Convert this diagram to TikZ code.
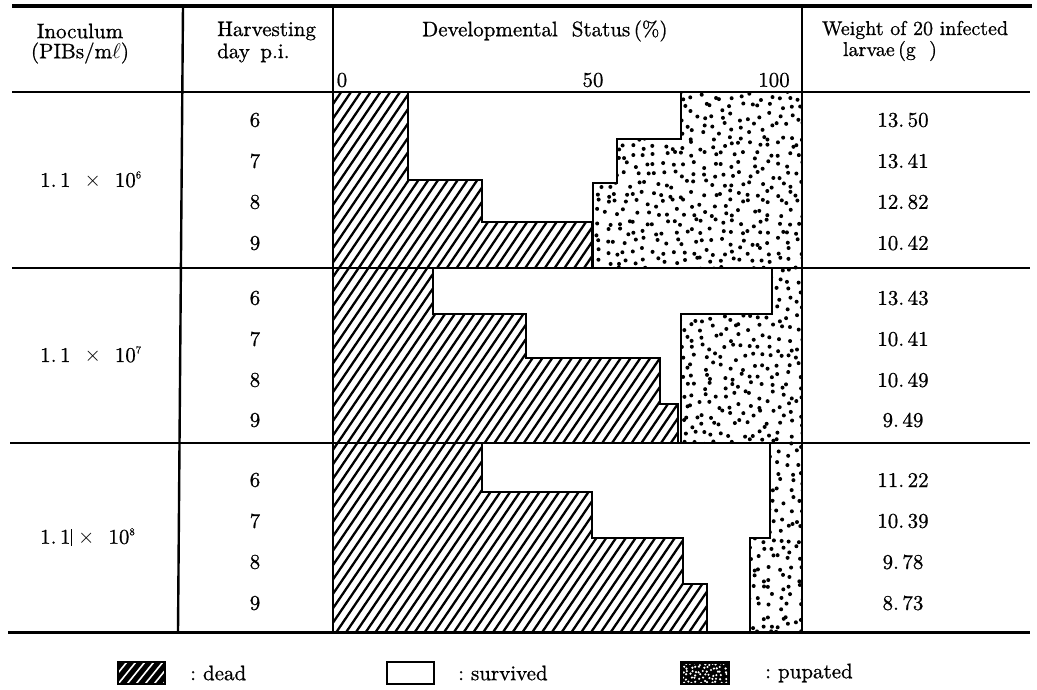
\documentclass[tikz,border=0pt]{standalone}
\usepackage{fontspec}
\newfontfamily\heavyrm{lmroman10-regular.otf}[FakeBold=0.8]
\newcommand{\sx}[2][2.1]{\scalebox{#1}{\fontsize{10}{12}\heavyrm #2}}
\newcommand{\supx}[1]{\raisebox{0.95ex}{\fontsize{5}{6}\selectfont #1}}
\begin{document}
\begin{tikzpicture}[x=1pt,y=-1pt,
  txt/.style={inner sep=0pt},
  thickrule/.style={line width=3.8pt},
  rule/.style={line width=2.4pt},
  outline/.style={line width=2.6pt,line join=miter},
  hatch/.style={line width=2.3pt},
  deadA/.style={insert path={(333,92) -- (408,92) -- (408,180) -- (482,180) -- (482,222) -- (592,222) -- (592,268) -- (333,268) -- cycle}},
  deadB/.style={insert path={(333,268) -- (433,268) -- (433,314) -- (526,314) -- (526,358) -- (660,358) -- (660,404) -- (678,404) -- (678,443) -- (333,443) -- cycle}},
  deadC/.style={insert path={(333,443) -- (482,443) -- (482,492) -- (592,492) -- (592,538) -- (683,538) -- (683,584) -- (707,584) -- (707,632) -- (333,632) -- cycle}},
  pupA/.style={insert path={(681,92) -- (802,92) -- (802,268) -- (593,268) -- (593,183) -- (617,183) -- (617,139) -- (681,139) -- cycle}},
  pupB/.style={insert path={(772,268) -- (802,268) -- (802,443) -- (681,443) -- (681,314) -- (772,314) -- cycle}},
  pupC/.style={insert path={(770,443) -- (802,443) -- (802,632) -- (750,632) -- (750,538) -- (770,538) -- cycle}}
]
\useasboundingbox (0,0) rectangle (1037,689);

% ---------- hatching of dead regions ----------
\begin{scope}
  \clip[deadA,deadB,deadC];
  \foreach \k in {0,...,88} {
    \draw[hatch] ({-110+\k*9.8},640) -- ++(500,-735);
  }
\end{scope}
\draw[outline,deadA];
\draw[outline,deadB];
\draw[outline,deadC];

% ---------- dots of pupated regions ----------
\pgfmathsetseed{4711}
\begin{scope}
  \clip[pupA,pupB,pupC];
  \foreach \i in {0,...,23} {
    \foreach \j in {0,...,58} {
      \pgfmathsetmacro\px{588+\i*9.6+rand*4}
      \pgfmathsetmacro\py{88+\j*9.6+rand*4}
      \fill (\px,\py) circle[radius=2pt];
    }
  }
\end{scope}
\draw[outline,pupA];
\draw[outline,pupB];
\draw[outline,pupC];

% ---------- table rules ----------
\coordinate (tl) at (12,6);   \coordinate (tr) at (1032,6);
\coordinate (hl) at (12,92);  \coordinate (hr) at (1030,92);
\coordinate (g1l) at (12,268); \coordinate (g1r) at (1030,268);
\coordinate (g2l) at (10,443); \coordinate (g2r) at (1030,443);
\coordinate (bl) at (8,632);  \coordinate (br) at (1030,632);
\coordinate (c1t) at (183,6); \coordinate (c1b) at (178,632);
\coordinate (c2t) at (333,6); \coordinate (c2b) at (333,632);
\coordinate (c3t) at (802,6); \coordinate (c3b) at (802,632);
\draw[thickrule] (tl) -- (tr);
\draw[rule,line width=2.8pt] (hl) -- (hr);
\draw[rule] (g1l) -- (g1r);
\draw[rule] (g2l) -- (g2r);
\draw[rule,line width=3pt] (bl) -- (br);
\draw[rule] (c1t) -- (c1b);
\draw[rule] (c2t) -- (c2b);
\draw[rule] (c3t) -- (c3b);

% ---------- header ----------
\node[txt] (hInoc) at (80,31) {\sx{Inoculum}};
\node[txt] (hPIB) at (80,53) {\sx{(PIBs/m$\ell$)}};
\node[txt,anchor=west] (hHarv) at (217,31) {\sx{Harvesting}};
\node[txt,anchor=west] (hDay) at (217,53) {\sx{day\, p.i.}};
\node[txt,anchor=west] (hDev) at (422,31) {\sx{Developmental\ \ Status\,(\%)}};
\node[txt] (h0) at (342,80) {\sx{0}};
\node[txt] (h50) at (593,80) {\sx{50}};
\node[txt] (h100) at (774,80) {\sx{100}};
\node[txt] (hW) at (915,30) {\sx[2.0]{Weight of 20 infected}};
\node[txt] (hL) at (890,51) {\sx[2.0]{larvae\,(g\ \ )}};

% ---------- inoculum labels ----------
\node[txt,anchor=west] (i6) at (40,180) {\sx{1.\,1\ \ $\times$\ \ 10\supx{6}}};
\node[txt,anchor=west] (i7) at (40,355) {\sx{1.\,1\ \ $\times$\ \ 10\supx{7}}};
\node[txt,anchor=west] (i8) at (40,537) {\sx{1.\,1\rule[-1pt]{0.3pt}{8pt}\ $\times$\ \ 10\supx{8}}};

% ---------- day labels ----------
\foreach \y/\d [count=\n] in {120/6,161/7,202/8,243/9,298/6,339/7,380/8,420/9,480/6,521/7,562/8,603/9} {
  \node[txt] (d\n) at (255,\y) {\sx{\d}};
}

% ---------- weights ----------
\foreach \y/\w [count=\n] in {120/13.\,50,161/13.\,41,202/12.\,82,243/10.\,42,298/13.\,43,339/10.\,41,380/10.\,49,420/9.\,49,480/11.\,22,521/10.\,39,562/9.\,78,603/8.\,73} {
  \node[txt] (w\n) at (903,\y) {\sx{\w}};
}

% ---------- legend ----------
\begin{scope}
  \clip (118,662) rectangle (165,684);
  \fill[black] (118,662) rectangle (165,684);
  \foreach \k in {0,...,9} {
    \draw[white,line width=1.6pt] ({96+\k*9},689) -- ++(26,-32);
  }
\end{scope}
\draw[line width=1.8pt] (118,662) rectangle (165,684);
\node[txt,anchor=west] (lDead) at (190,673) {\sx[2.1]{:\ dead}};

\draw[line width=2.4pt] (387,662) rectangle (434,684);
\node[txt,anchor=west] (lSurv) at (458,673) {\sx[2.1]{:\ survived}};

\fill[black] (681,662) rectangle (729,684);
\pgfmathsetseed{99}
\begin{scope}
  \clip (683,664) rectangle (727,682);
  \foreach \i in {0,...,10} {
    \foreach \j in {0,...,5} {
      \pgfmathsetmacro\px{683+\i*4.2+rand*1.5}
      \pgfmathsetmacro\py{664+\j*3.6+rand*1.2}
      \fill[white] (\px,\py) circle[radius=1.2pt];
    }
  }
\end{scope}
\draw[line width=1.6pt] (681,662) rectangle (729,684);
\node[txt,anchor=west] (lPup) at (765,673) {\sx[2.1]{:\ pupated}};
\end{tikzpicture}
\end{document}
